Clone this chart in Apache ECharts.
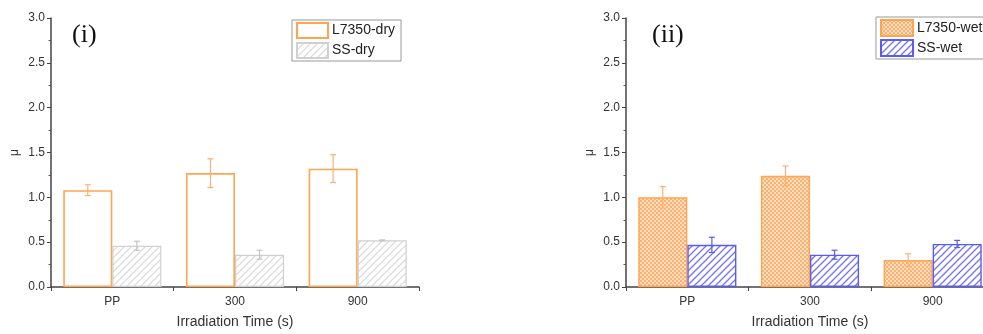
<!DOCTYPE html>
<html><head><meta charset="utf-8">
<script src="https://cdn.jsdelivr.net/npm/echarts@6/dist/echarts.min.js"></script>
<style>html,body{margin:0;padding:0;background:#fff;overflow:hidden}#c{width:1000px;height:334px}</style>
</head><body><div id="c"></div>
<script>
// ---- data ----
const categories = ['PP', '300', '900'];
const yTicks = [0, 0.5, 1.0, 1.5, 2.0, 2.5, 3.0];
const dryL7350 = [1.08, 1.27, 1.32];
const dryL7350Err = [0.06, 0.16, 0.155];
const drySS = [0.46, 0.36, 0.52];
const drySSErr = [0.05, 0.05, 0.005];
const wetL7350 = [1.00, 1.24, 0.30];
const wetL7350Err = [0.12, 0.11, 0.07];
const wetSS = [0.47, 0.36, 0.48];
const wetSSErr = [0.085, 0.05, 0.04];

// ---- patterns ----
function hatch(color, bg, size, lw) {
  const c = document.createElement('canvas'); c.width = size; c.height = size;
  const g = c.getContext('2d');
  g.fillStyle = bg; g.fillRect(0, 0, size, size);
  g.strokeStyle = color; g.lineWidth = lw;
  g.beginPath();
  g.moveTo(-1, size + 1); g.lineTo(size + 1, -1);
  g.moveTo(-1, 1); g.lineTo(1, -1);
  g.moveTo(size - 1, size + 1); g.lineTo(size + 1, size - 1);
  g.stroke();
  return { image: c, repeat: 'repeat' };
}
function checker(c1, c2, cell) {
  const c = document.createElement('canvas'); c.width = cell * 2; c.height = cell * 2;
  const g = c.getContext('2d');
  g.fillStyle = c2; g.fillRect(0, 0, cell * 2, cell * 2);
  g.fillStyle = c1; g.fillRect(0, 0, cell, cell); g.fillRect(cell, cell, cell, cell);
  return { image: c, repeat: 'repeat' };
}
const ORANGE = '#FFA54F';
const BLUE = '#5A5AF5';
const greyHatch = hatch('#d8d8d8', '#ffffff', 7, 1.2);
const blueHatch = hatch('#7272F7', '#ffffff', 7, 1.3);
const orangeChecker = checker('#FFB070', '#FFE0C0', 2);

const chart = echarts.init(document.getElementById('c'));

function yAxis(gi) {
  return {
    gridIndex: gi, type: 'value', min: 0, max: 3, interval: 0.5,
    name: 'μ', nameLocation: 'middle', nameGap: 30, nameRotate: 90,
    nameTextStyle: { fontFamily: 'Liberation Sans', fontSize: 12, color: '#333' },
    axisLine: { show: true, lineStyle: { color: '#444', width: 1.5 } },
    axisTick: { show: true, length: 4, lineStyle: { color: '#444' } },
    minorTick: { show: true, splitNumber: 2, length: 2.5, lineStyle: { color: '#555' } },
    splitLine: { show: false },
    axisLabel: { fontFamily: 'Liberation Sans', fontSize: 12, color: '#333', margin: 6,
      formatter: v => yTicks.indexOf(v) >= 0 ? v.toFixed(1) : '' }
  };
}
function xAxis(gi) {
  return {
    gridIndex: gi, type: 'category', data: categories,
    name: 'Irradiation Time (s)', nameLocation: 'middle', nameGap: 28,
    nameTextStyle: { fontFamily: 'Liberation Sans', fontSize: 14, color: '#333' },
    axisLine: { show: true, lineStyle: { color: '#444', width: 1.5 } },
    axisTick: { show: true, length: 4, lineStyle: { color: '#444' } },
    axisLabel: { fontFamily: 'Liberation Sans', fontSize: 12, color: '#333', margin: 9 }
  };
}
function errSeries(gi, vals, errs, side, color) {
  return {
    type: 'custom', xAxisIndex: gi, yAxisIndex: gi, z: 5, silent: true,
    data: vals.map((v, i) => [i, v - errs[i], v + errs[i]]),
    encode: { x: 0, y: [1, 2] },
    renderItem: function (params, api) {
      const band = api.size([1, 0])[0];
      const off = side * band * 0.2;
      const lo = api.coord([api.value(0), api.value(1)]);
      const hi = api.coord([api.value(0), api.value(2)]);
      const x = lo[0] + off, cw = 3;
      const st = { stroke: color, lineWidth: 1.2 };
      return { type: 'group', children: [
        { type: 'line', shape: { x1: x, y1: lo[1], x2: x, y2: hi[1] }, style: st },
        { type: 'line', shape: { x1: x - cw, y1: lo[1], x2: x + cw, y2: lo[1] }, style: st },
        { type: 'line', shape: { x1: x - cw, y1: hi[1], x2: x + cw, y2: hi[1] }, style: st }
      ]};
    }
  };
}

chart.setOption({
  animation: false,
  grid: [
    { left: 51, top: 18, width: 368, height: 272 },
    { left: 626, top: 18, width: 368, height: 272 }
  ],
  xAxis: [xAxis(0), xAxis(1)],
  yAxis: [yAxis(0), yAxis(1)],
  legend: [
    { data: ['L7350-dry', 'SS-dry'], orient: 'vertical', left: 292, top: 20,
      itemWidth: 31, itemHeight: 15, itemGap: 3, padding: [2, 6, 2, 4],
      borderColor: '#999', borderWidth: 1, icon: 'rect',
      textStyle: { fontFamily: 'Liberation Sans', fontSize: 14, color: '#222', padding: [0, 0, 0, -1] } },
    { data: ['L7350-wet', 'SS-wet'], orient: 'vertical', left: 876, top: 17,
      itemWidth: 32, itemHeight: 16, itemGap: 2, padding: [2, 6, 2, 4],
      borderColor: '#999', borderWidth: 1, icon: 'rect',
      textStyle: { fontFamily: 'Liberation Sans', fontSize: 14, color: '#222', padding: [0, 0, 0, -1] } }
  ],
  graphic: [
    { type: 'text', left: 72, top: 22, style: { text: '(i)', font: '26px "Liberation Serif"', fill: '#111' } },
    { type: 'text', left: 652, top: 22, style: { text: '(ii)', font: '26px "Liberation Serif"', fill: '#111' } }
  ],
  series: [
    { name: 'L7350-dry', type: 'bar', xAxisIndex: 0, yAxisIndex: 0, data: dryL7350,
      barGap: '0%', barCategoryGap: '20%',
      itemStyle: { color: '#ffffff', borderColor: ORANGE, borderWidth: 1.6 } },
    { name: 'SS-dry', type: 'bar', xAxisIndex: 0, yAxisIndex: 0, data: drySS,
      barGap: '0%', barCategoryGap: '20%',
      itemStyle: { color: greyHatch, borderColor: '#d0d0d0', borderWidth: 1.2 } },
    { name: 'L7350-wet', type: 'bar', xAxisIndex: 1, yAxisIndex: 1, data: wetL7350,
      barGap: '0%', barCategoryGap: '20%',
      itemStyle: { color: orangeChecker, borderColor: ORANGE, borderWidth: 1.4 } },
    { name: 'SS-wet', type: 'bar', xAxisIndex: 1, yAxisIndex: 1, data: wetSS,
      barGap: '0%', barCategoryGap: '20%',
      itemStyle: { color: blueHatch, borderColor: BLUE, borderWidth: 1.4 } },
    errSeries(0, dryL7350, dryL7350Err, -1, '#FFB070'),
    errSeries(0, drySS, drySSErr, 1, '#c4c4c4'),
    errSeries(1, wetL7350, wetL7350Err, -1, '#FFB070'),
    errSeries(1, wetSS, wetSSErr, 1, BLUE)
  ]
});
</script></body></html>
